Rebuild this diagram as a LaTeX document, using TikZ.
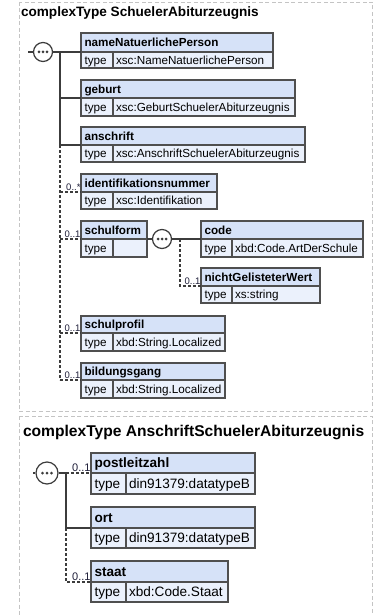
\documentclass[tikz,border=0pt]{standalone}
\usepackage{fontspec}
\setmainfont{Liberation Sans}
\usetikzlibrary{calc}
\definecolor{hdrblue}{HTML}{D6E2F8}
\definecolor{typeblue}{HTML}{EBF1FC}
\definecolor{edge}{HTML}{4F4F4F}
\definecolor{wire}{HTML}{3C3C3C}
\definecolor{frame}{HTML}{C4C4C4}
\definecolor{occcol}{HTML}{1F1F3A}

\newcommand\hdrfont{\fontsize{11.7}{14}\selectfont\bfseries}
\newcommand\typfont{\fontsize{11.7}{14}\selectfont}
\newcommand\occfont{\fontsize{9.5}{11}\selectfont}
\newcommand\boff{4.2}

\tikzset{
  x=1pt, y=-1pt,
  boxnode/.style={draw=edge, line width=1.4pt, inner sep=0pt, outer sep=0pt, rectangle},
  boxline/.style={draw=edge, line width=1.2pt},
  lbl/.style={inner sep=0pt, outer sep=0pt, text=black},
  conn/.style={draw=wire, line width=1.1pt},
  dconn/.style={draw=wire, line width=1.1pt, dash pattern=on 3pt off 2pt},
  seqc/.style={circle, draw=wire, line width=1.2pt, fill=white, inner sep=0pt, minimum size=19pt},
  framebox/.style={draw=frame, line width=0.8pt, dash pattern=on 4pt off 2.5pt},
  occ/.style={inner sep=0pt, outer sep=0pt, text=occcol, anchor=base east},
}

% #1 name, #2 x left, #3 y top, #4 x right, #5 y divider, #6 y bottom, #7 x type divider, #8 title, #9 type
\newcommand\elem[9]{%
  \fill[hdrblue] (#2,#3) rectangle (#4,#5);
  \fill[typeblue] (#2,#5) rectangle (#4,#6);
  \node[boxnode, anchor=north west, minimum width={(#4-#2)*1pt}, minimum height={(#6-#3)*1pt}] (#1) at (#2,#3) {};
  \draw[boxline] (#2,#5) -- (#4,#5) (#7,#5) -- (#7,#6);
  \coordinate (#1-d) at (#2,#5);
  \coordinate (#1-e) at (#4,#5);
  \node[lbl, anchor=base west] (#1-t) at ({#2+3.5},{(#3+#5)/2+\boff}) {\hdrfont #8};
  \node[lbl, anchor=base west] (#1-k) at ({#2+3.5},{(#5+#6)/2+\boff}) {\typfont type};
  \node[lbl, anchor=base west] (#1-v) at ({#7+3},{(#5+#6)/2+\boff}) {\typfont #9};
}

\newcommand\seqdots[2]{%
  \foreach \dx in {-#2,0,#2} \fill[wire] ([xshift=\dx pt]#1.center) circle (1.5pt);
}

\begin{document}
\begin{tikzpicture}
\useasboundingbox (0,0) rectangle (374,615);
\fill[white] (0,0) rectangle (374,615);

% ---------- frames ----------
\draw[framebox] (19,2) rectangle (372,411);
\begin{scope}
\clip (0,0) rectangle (374,615);
\draw[framebox] (19,416) rectangle (372,640);
\end{scope}

% ---------- part 1 ----------
\node[lbl, anchor=base west] (title1) at (21,17) {\fontsize{13.6}{16}\selectfont\bfseries complexType SchuelerAbiturzeugnis};

\elem{nnp}{81}{33}{273}{52}{68}{113}{nameNatuerlichePerson}{xsc:NameNatuerlichePerson}
\elem{geburt}{81}{80}{295}{98}{116}{113}{geburt}{xsc:GeburtSchuelerAbiturzeugnis}
\elem{anschrift}{81}{127}{305}{145}{162}{113}{anschrift}{xsc:AnschriftSchuelerAbiturzeugnis}
\elem{ident}{81}{174}{217}{192}{209}{113}{identifikationsnummer}{xsc:Identifikation}
\elem{schulform}{81}{221}{147}{239}{257}{113}{schulform}{}
\elem{code}{201}{221}{363}{239}{257}{232}{code}{xbd:Code.ArtDerSchule}
\elem{ngw}{201}{268}{320}{286}{303}{232}{nichtGelisteterWert}{xs:string}
\elem{schulprofil}{81}{316}{225}{333}{351}{113}{schulprofil}{xbd:String.Localized}
\elem{bildung}{81}{363}{225}{380}{398}{113}{bildungsgang}{xbd:String.Localized}

\coordinate (in1) at (28,52);
\coordinate (t1) at (60,52);
\coordinate (t2) at (60,145);
\node[seqc] (seq1) at (43,52) {};
\seqdots{seq1}{4}
\draw[conn] (in1) -- (seq1.west);
\draw[conn] (seq1.east) -- (nnp-d);
\draw[conn] (t1) |- (geburt-d);
\draw[conn] (t1) |- (anschrift-d);
\draw[dconn] (t2) -- (t2 |- bildung-d);
\draw[dconn] (t2 |- ident-d) -- (ident-d);
\draw[dconn] (t2 |- schulform-d) -- (schulform-d);
\draw[dconn] (t2 |- schulprofil-d) -- (schulprofil-d);
\draw[dconn] (t2 |- bildung-d) -- (bildung-d);
\node[occ] (o1) at ($(ident-d)+(-0.5,-2)$) {\occfont 0..*};
\node[occ] (o2) at ($(schulform-d)+(-0.5,-2)$) {\occfont 0..1};
\node[occ] (o3) at ($(schulprofil-d)+(-0.5,-2)$) {\occfont 0..1};
\node[occ] (o4) at ($(bildung-d)+(-0.5,-2)$) {\occfont 0..1};

\node[seqc] (seq2) at (162,239) {};
\seqdots{seq2}{4}
\coordinate (j1) at (180,239);
\draw[conn] (schulform-e) -- (seq2.west);
\draw[conn] (seq2.east) -- (code-d);
\draw[dconn] (j1) |- (ngw-d);
\node[occ] (o5) at ($(ngw-d)+(-0.5,-2)$) {\occfont 0..1};

% ---------- part 2 ----------
\renewcommand\hdrfont{\fontsize{13.6}{16}\selectfont\bfseries}
\renewcommand\typfont{\fontsize{13.6}{16}\selectfont}
\renewcommand\occfont{\fontsize{11}{13}\selectfont}
\renewcommand\boff{4.9}

\node[lbl, anchor=base west] (title2) at (23,436) {\fontsize{15.6}{18}\selectfont\bfseries complexType AnschriftSchuelerAbiturzeugnis};

\elem{plz}{91}{453}{255}{473}{494}{126}{postleitzahl}{din91379:datatypeB}
\elem{ort}{91}{507}{255}{528}{548}{126}{ort}{din91379:datatypeB}
\elem{staat}{91}{561}{228}{582}{602}{126}{staat}{xbd:Code.Staat}

\coordinate (in2) at (33,473);
\coordinate (t3) at (66,473);
\coordinate (t4) at (66,528);
\node[seqc, minimum size=22pt] (seq3) at (47,473) {};
\seqdots{seq3}{4.5}
\draw[conn] (in2) -- (seq3.west);
\draw[conn] (seq3.east) -- (t3);
\draw[dconn] (t3) -- (plz-d);
\draw[conn] (t3) |- (ort-d);
\draw[dconn] (t4) |- (staat-d);
\node[occ] (o6) at ($(plz-d)+(-0.5,-2)$) {\occfont 0..1};
\node[occ] (o7) at ($(staat-d)+(-0.5,-2)$) {\occfont 0..1};
\end{tikzpicture}
\end{document}
